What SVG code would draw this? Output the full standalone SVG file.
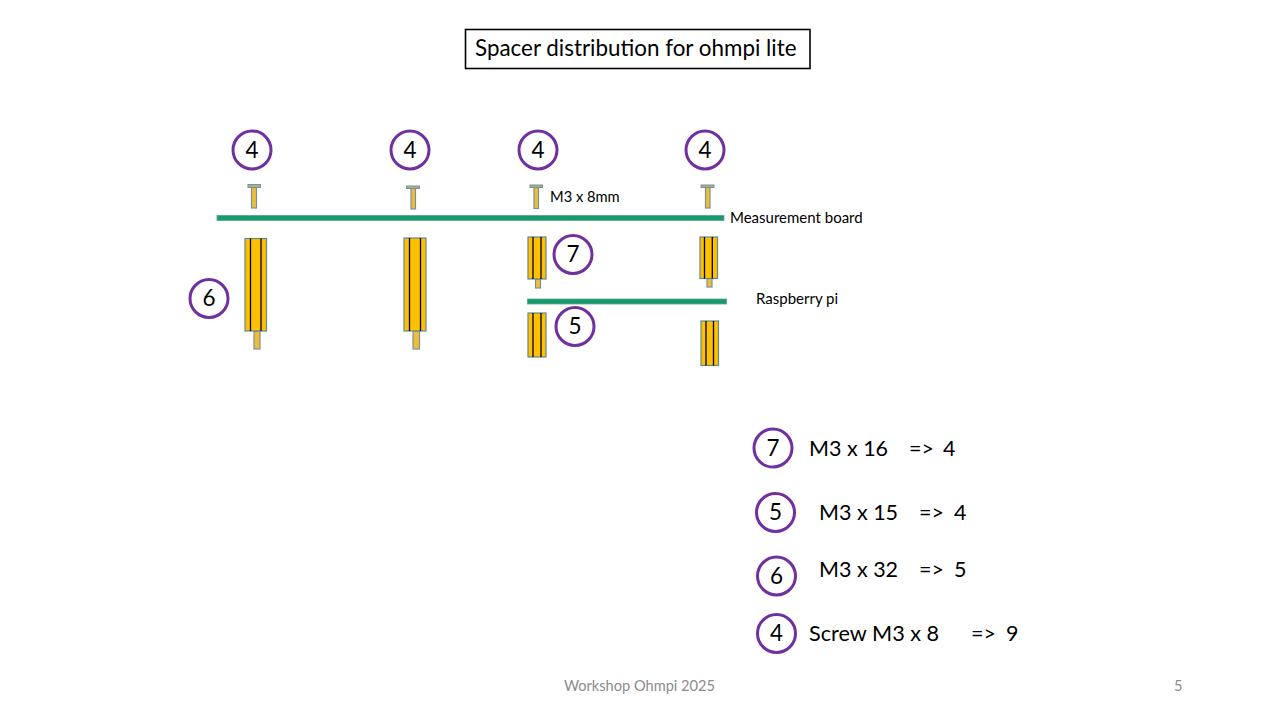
<svg xmlns="http://www.w3.org/2000/svg" width="1280" height="720" viewBox="0 0 1280 720">
<style>
text{font-family:"Lato","Liberation Sans",sans-serif;fill:#000}
.c{fill:#fff;stroke:#7030A0;stroke-width:3}
.n{font-size:22.5px;text-anchor:middle}
.l{font-size:21.5px}
.s{font-size:15px}
.y{fill:#FFC000;stroke:#5F8796;stroke-width:1.2}
.p{fill:#EDBE3A;stroke:#7C9098;stroke-width:1.2}
.g{fill:#169B6B;stroke:#5F9E96;stroke-width:.8}
.b{stroke:#000;stroke-width:1.3;fill:none}
.h{fill:#A8B08A;stroke:#7C9098;stroke-width:1}
.f{font-size:14.6px;fill:#8C8C8C}
</style>
<rect width="1280" height="720" fill="#fff"/>
<g id="title"><rect x="465.5" y="29.5" width="344.5" height="39" fill="#fff" stroke="#000" stroke-width="1.6"/><text x="475" y="56" font-size="22.4px">Spacer distribution for ohmpi lite</text></g>
<g id="boards">
<rect class="g" x="217" y="215.5" width="507" height="5"/>
<rect class="g" x="527.500" y="299" width="199" height="5"/>
</g>
<g id="screws">
<rect class="p" x="251.500" y="187.500" width="5" height="20.500"/><rect class="h" x="248" y="184.500" width="12.500" height="3"/>
<rect class="p" x="411" y="188.500" width="4.500" height="20.500"/><rect class="h" x="406.500" y="186" width="13" height="2.500"/>
<rect class="p" x="534" y="187.500" width="4.500" height="21"/><rect class="h" x="530" y="185" width="12.500" height="2.500"/>
<rect class="p" x="705.500" y="187.500" width="4.500" height="20.500"/><rect class="h" x="701" y="185" width="13" height="2.500"/>
</g>
<g id="spacers">
<rect class="p" x="254" y="331" width="6" height="18"/><rect class="y" x="245" y="238.500" width="21.500" height="92.500"/><path class="b" d="M250.500 238.500V331M261 238.500V331"/>
<rect class="p" x="413" y="331" width="6.500" height="18"/><rect class="y" x="404" y="238" width="22" height="93"/><path class="b" d="M409.500 238V331M420.500 238V331"/>
<rect class="p" x="535.500" y="279" width="5" height="9"/><rect class="y" x="528" y="237" width="18" height="42"/><path class="b" d="M533 237V279M541 237V279"/>
<rect class="p" x="707" y="278.500" width="5" height="8.500"/><rect class="y" x="700" y="237" width="17.500" height="41.500"/><path class="b" d="M704.500 237V278.500M712.300 237V278.500"/>
<rect class="y" x="528" y="313" width="18" height="44"/><path class="b" d="M533 313V357M541 313V357"/>
<rect class="y" x="701" y="321" width="17.500" height="44.500"/><path class="b" d="M706 321V365.500M713.500 321V365.500"/>
</g>
<g id="badge-a"><circle class="c" cx="252" cy="150" r="19"/><text class="n" x="252" y="158">4</text></g>
<g id="badge-b"><circle class="c" cx="410" cy="150" r="19"/><text class="n" x="410" y="158">4</text></g>
<g id="badge-c"><circle class="c" cx="538" cy="150" r="19"/><text class="n" x="538" y="158">4</text></g>
<g id="badge-d"><circle class="c" cx="705" cy="150" r="19"/><text class="n" x="705" y="157.500">4</text></g>
<g id="badge-e"><circle class="c" cx="209" cy="298.500" r="19"/><text class="n" x="209" y="306">6</text></g>
<g id="badge-f"><circle class="c" cx="573" cy="254.500" r="19"/><text class="n" x="573" y="262">7</text></g>
<g id="badge-g"><circle class="c" cx="575" cy="326.500" r="19"/><text class="n" x="575" y="334">5</text></g>
<g id="labels">
<text class="s" x="550" y="202" style="font-size:14.7px">M3 x 8mm</text>
<text class="s" x="730" y="223">Measurement board</text>
<text class="s" x="756" y="304">Raspberry pi</text>
</g>
<g id="legend-7"><circle class="c" cx="773" cy="448" r="19"/><text class="n" x="773" y="455.500">7</text><text class="l" x="809" y="455.500">M3 x 16</text><text class="l" x="909" y="455.500">=&gt;</text><text class="l" x="943" y="455.500">4</text></g>
<g id="legend-5"><circle class="c" cx="775.500" cy="512.500" r="19"/><text class="n" x="775.500" y="520">5</text><text class="l" x="819" y="519.500">M3 x 15</text><text class="l" x="919" y="519.500">=&gt;</text><text class="l" x="954" y="519.500">4</text></g>
<g id="legend-6"><circle class="c" cx="776.500" cy="576" r="19"/><text class="n" x="776.500" y="584">6</text><text class="l" x="819" y="576.500">M3 x 32</text><text class="l" x="919" y="576.500">=&gt;</text><text class="l" x="954" y="576.500">5</text></g>
<g id="legend-4"><circle class="c" cx="776.500" cy="633.500" r="19"/><text class="n" x="776.500" y="641">4</text><text class="l" x="809" y="640.500" style="font-size:21.7px">Screw M3 x 8</text><text class="l" x="971" y="640.500">=&gt;</text><text class="l" x="1006" y="640.500">9</text></g>
<g id="footer"><text class="f" x="564" y="691">Workshop Ohmpi 2025</text><text class="f" x="1174" y="691">5</text></g>
</svg>
